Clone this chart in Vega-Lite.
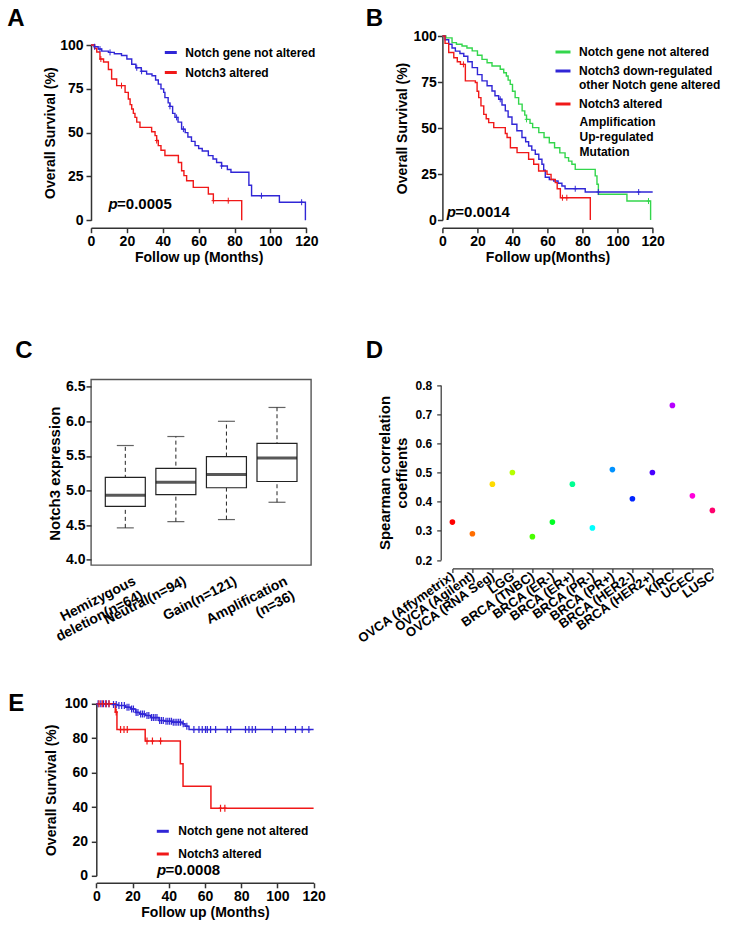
{
  "$schema": "https://vega.github.io/schema/vega-lite/v6.json",
  "background": "white",
  "padding": {"left": 7, "top": 6, "right": 4, "bottom": 4},
  "bounds": "flush",
  "columns": 2,
  "spacing": {"row": 138.4, "column": 128.4},
  "resolve": {"scale": {"x": "independent", "y": "independent", "color": "independent"}, "legend": {"color": "independent"}},
  "config": {
    "font": "Liberation Sans",
    "view": {"stroke": null},
    "axis": {"labelFont": "Liberation Sans", "labelFontWeight": "bold", "labelFontSize": 14, "labelColor": "#000", "titleFont": "Liberation Sans", "titleFontWeight": "bold", "titleFontSize": 14, "titleColor": "#000", "domainColor": "#333", "domainWidth": 1.5, "tickColor": "#333", "tickWidth": 1.5, "tickSize": 5, "grid": false, "labelOverlap": false, "labelFlush": false, "labelBound": false},
    "legend": {"labelFont": "Liberation Sans", "labelFontWeight": "bold", "labelFontSize": 12, "labelColor": "#000", "symbolType": "stroke", "symbolStrokeWidth": 3, "padding": 0, "labelLimit": 400},
    "title": {"font": "Liberation Sans", "fontSize": 24, "fontWeight": "bold", "color": "#000", "anchor": "start", "frame": "group", "baseline": "alphabetic", "offset": 0},
    "text": {"font": "Liberation Sans", "color": "#000"}
  },
  "datasets": {
    "kmA": [
      {"group": "Notch gene not altered", "t": 0, "surv": 100}, {"group": "Notch gene not altered", "t": 2, "surv": 99}, {"group": "Notch gene not altered", "t": 4, "surv": 97.7}, {"group": "Notch gene not altered", "t": 6, "surv": 96.5}, {"group": "Notch gene not altered", "t": 9.7, "surv": 95.8}, {"group": "Notch gene not altered", "t": 13, "surv": 95}, {"group": "Notch gene not altered", "t": 17, "surv": 94}, {"group": "Notch gene not altered", "t": 20, "surv": 92}, {"group": "Notch gene not altered", "t": 22.7, "surv": 89}, {"group": "Notch gene not altered", "t": 25, "surv": 87}, {"group": "Notch gene not altered", "t": 28, "surv": 85}, {"group": "Notch gene not altered", "t": 31, "surv": 83.5}, {"group": "Notch gene not altered", "t": 34, "surv": 82.5}, {"group": "Notch gene not altered", "t": 36, "surv": 80}, {"group": "Notch gene not altered", "t": 37.5, "surv": 77.7}, {"group": "Notch gene not altered", "t": 39, "surv": 75}, {"group": "Notch gene not altered", "t": 40.5, "surv": 73}, {"group": "Notch gene not altered", "t": 41.2, "surv": 70}, {"group": "Notch gene not altered", "t": 43, "surv": 67}, {"group": "Notch gene not altered", "t": 44, "surv": 65}, {"group": "Notch gene not altered", "t": 45.5, "surv": 61}, {"group": "Notch gene not altered", "t": 46.8, "surv": 58.7}, {"group": "Notch gene not altered", "t": 48.5, "surv": 56}, {"group": "Notch gene not altered", "t": 50.5, "surv": 52}, {"group": "Notch gene not altered", "t": 52.5, "surv": 50}, {"group": "Notch gene not altered", "t": 54, "surv": 47.5}, {"group": "Notch gene not altered", "t": 56, "surv": 45}, {"group": "Notch gene not altered", "t": 58, "surv": 42.6}, {"group": "Notch gene not altered", "t": 60, "surv": 41}, {"group": "Notch gene not altered", "t": 62, "surv": 39.5}, {"group": "Notch gene not altered", "t": 65.4, "surv": 36.9}, {"group": "Notch gene not altered", "t": 68, "surv": 35}, {"group": "Notch gene not altered", "t": 70, "surv": 33}, {"group": "Notch gene not altered", "t": 72.8, "surv": 31}, {"group": "Notch gene not altered", "t": 76, "surv": 29}, {"group": "Notch gene not altered", "t": 78, "surv": 27.4}, {"group": "Notch gene not altered", "t": 88, "surv": 20}, {"group": "Notch gene not altered", "t": 89.5, "surv": 14}, {"group": "Notch gene not altered", "t": 105, "surv": 10.3}, {"group": "Notch gene not altered", "t": 119.5, "surv": 0},
      {"group": "Notch3 altered", "t": 0, "surv": 100}, {"group": "Notch3 altered", "t": 2, "surv": 98}, {"group": "Notch3 altered", "t": 3.2, "surv": 96}, {"group": "Notch3 altered", "t": 5, "surv": 92}, {"group": "Notch3 altered", "t": 7, "surv": 90.3}, {"group": "Notch3 altered", "t": 9.7, "surv": 86}, {"group": "Notch3 altered", "t": 11.5, "surv": 80.6}, {"group": "Notch3 altered", "t": 14.3, "surv": 76.8}, {"group": "Notch3 altered", "t": 19, "surv": 73}, {"group": "Notch3 altered", "t": 20.8, "surv": 69.2}, {"group": "Notch3 altered", "t": 21.8, "surv": 66}, {"group": "Notch3 altered", "t": 22.7, "surv": 63.5}, {"group": "Notch3 altered", "t": 23.6, "surv": 61}, {"group": "Notch3 altered", "t": 24.5, "surv": 58.7}, {"group": "Notch3 altered", "t": 25.5, "surv": 56}, {"group": "Notch3 altered", "t": 27.3, "surv": 53}, {"group": "Notch3 altered", "t": 33.8, "surv": 50.5}, {"group": "Notch3 altered", "t": 35.7, "surv": 48.3}, {"group": "Notch3 altered", "t": 36.6, "surv": 45.5}, {"group": "Notch3 altered", "t": 37.5, "surv": 42.6}, {"group": "Notch3 altered", "t": 39, "surv": 40}, {"group": "Notch3 altered", "t": 41.2, "surv": 37}, {"group": "Notch3 altered", "t": 48.7, "surv": 33}, {"group": "Notch3 altered", "t": 50.5, "surv": 28.3}, {"group": "Notch3 altered", "t": 51.8, "surv": 25.5}, {"group": "Notch3 altered", "t": 53.3, "surv": 22.6}, {"group": "Notch3 altered", "t": 57, "surv": 18.8}, {"group": "Notch3 altered", "t": 65.4, "surv": 15}, {"group": "Notch3 altered", "t": 68.2, "surv": 11.2}, {"group": "Notch3 altered", "t": 84, "surv": 0}
    ],
    "censA": [
      {"group": "Notch gene not altered", "t": 2, "surv": 99}, {"group": "Notch gene not altered", "t": 5, "surv": 97.7}, {"group": "Notch gene not altered", "t": 10.6, "surv": 95.8}, {"group": "Notch gene not altered", "t": 25.5, "surv": 87}, {"group": "Notch gene not altered", "t": 28.2, "surv": 85}, {"group": "Notch gene not altered", "t": 44, "surv": 65}, {"group": "Notch gene not altered", "t": 47.7, "surv": 58.7}, {"group": "Notch gene not altered", "t": 51.5, "surv": 52}, {"group": "Notch gene not altered", "t": 72.8, "surv": 31}, {"group": "Notch gene not altered", "t": 95, "surv": 14}, {"group": "Notch gene not altered", "t": 117.4, "surv": 10.3},
      {"group": "Notch3 altered", "t": 5.5, "surv": 92}, {"group": "Notch3 altered", "t": 17, "surv": 76.8}, {"group": "Notch3 altered", "t": 36.6, "surv": 45.5}, {"group": "Notch3 altered", "t": 68.2, "surv": 11.2}, {"group": "Notch3 altered", "t": 76.5, "surv": 11.2}
    ],
    "kmB": [
      {"group": "Notch gene not altered", "t": 0, "surv": 100}, {"group": "Notch gene not altered", "t": 2, "surv": 99}, {"group": "Notch gene not altered", "t": 5.5, "surv": 96.4}, {"group": "Notch gene not altered", "t": 8, "surv": 95.5}, {"group": "Notch gene not altered", "t": 11.2, "surv": 94.6}, {"group": "Notch gene not altered", "t": 14, "surv": 93.5}, {"group": "Notch gene not altered", "t": 17, "surv": 91.9}, {"group": "Notch gene not altered", "t": 20, "surv": 89.5}, {"group": "Notch gene not altered", "t": 22.6, "surv": 87.3}, {"group": "Notch gene not altered", "t": 25.5, "surv": 85.5}, {"group": "Notch gene not altered", "t": 28.3, "surv": 83.7}, {"group": "Notch gene not altered", "t": 33, "surv": 81.9}, {"group": "Notch gene not altered", "t": 35, "surv": 80}, {"group": "Notch gene not altered", "t": 36.5, "surv": 78.3}, {"group": "Notch gene not altered", "t": 37.5, "surv": 76}, {"group": "Notch gene not altered", "t": 38.7, "surv": 73.7}, {"group": "Notch gene not altered", "t": 40, "surv": 70}, {"group": "Notch gene not altered", "t": 41.5, "surv": 66.5}, {"group": "Notch gene not altered", "t": 43.5, "surv": 63}, {"group": "Notch gene not altered", "t": 45.5, "surv": 59.3}, {"group": "Notch gene not altered", "t": 47, "surv": 57}, {"group": "Notch gene not altered", "t": 48, "surv": 54.7}, {"group": "Notch gene not altered", "t": 50, "surv": 52.5}, {"group": "Notch gene not altered", "t": 51.5, "surv": 50.2}, {"group": "Notch gene not altered", "t": 55, "surv": 47.5}, {"group": "Notch gene not altered", "t": 58, "surv": 44.8}, {"group": "Notch gene not altered", "t": 61, "surv": 42}, {"group": "Notch gene not altered", "t": 64, "surv": 39.3}, {"group": "Notch gene not altered", "t": 67, "surv": 36.5}, {"group": "Notch gene not altered", "t": 70, "surv": 33.9}, {"group": "Notch gene not altered", "t": 72, "surv": 32}, {"group": "Notch gene not altered", "t": 73.9, "surv": 30.3}, {"group": "Notch gene not altered", "t": 75.8, "surv": 27.5}, {"group": "Notch gene not altered", "t": 87.2, "surv": 24}, {"group": "Notch gene not altered", "t": 88.2, "surv": 19.4}, {"group": "Notch gene not altered", "t": 89, "surv": 14}, {"group": "Notch gene not altered", "t": 105.3, "surv": 10.3}, {"group": "Notch gene not altered", "t": 118.8, "surv": 0},
      {"group": "Notch3 down-regulated, other Notch gene altered", "t": 0, "surv": 100}, {"group": "Notch3 down-regulated, other Notch gene altered", "t": 1.5, "surv": 98}, {"group": "Notch3 down-regulated, other Notch gene altered", "t": 3.6, "surv": 95.5}, {"group": "Notch3 down-regulated, other Notch gene altered", "t": 5.5, "surv": 93.5}, {"group": "Notch3 down-regulated, other Notch gene altered", "t": 7.4, "surv": 91.8}, {"group": "Notch3 down-regulated, other Notch gene altered", "t": 10, "surv": 90.5}, {"group": "Notch3 down-regulated, other Notch gene altered", "t": 12.2, "surv": 89}, {"group": "Notch3 down-regulated, other Notch gene altered", "t": 14.5, "surv": 86}, {"group": "Notch3 down-regulated, other Notch gene altered", "t": 17, "surv": 82.8}, {"group": "Notch3 down-regulated, other Notch gene altered", "t": 20, "surv": 79}, {"group": "Notch3 down-regulated, other Notch gene altered", "t": 22.6, "surv": 75.6}, {"group": "Notch3 down-regulated, other Notch gene altered", "t": 25.5, "surv": 73}, {"group": "Notch3 down-regulated, other Notch gene altered", "t": 28.3, "surv": 70.1}, {"group": "Notch3 down-regulated, other Notch gene altered", "t": 30, "surv": 67.5}, {"group": "Notch3 down-regulated, other Notch gene altered", "t": 32.1, "surv": 65.6}, {"group": "Notch3 down-regulated, other Notch gene altered", "t": 34, "surv": 62.5}, {"group": "Notch3 down-regulated, other Notch gene altered", "t": 35.9, "surv": 59.3}, {"group": "Notch3 down-regulated, other Notch gene altered", "t": 37.5, "surv": 56}, {"group": "Notch3 down-regulated, other Notch gene altered", "t": 39.7, "surv": 52}, {"group": "Notch3 down-regulated, other Notch gene altered", "t": 42.5, "surv": 48.5}, {"group": "Notch3 down-regulated, other Notch gene altered", "t": 45.4, "surv": 44.8}, {"group": "Notch3 down-regulated, other Notch gene altered", "t": 47.5, "surv": 42.5}, {"group": "Notch3 down-regulated, other Notch gene altered", "t": 49.2, "surv": 40.2}, {"group": "Notch3 down-regulated, other Notch gene altered", "t": 51, "surv": 38}, {"group": "Notch3 down-regulated, other Notch gene altered", "t": 53, "surv": 35.7}, {"group": "Notch3 down-regulated, other Notch gene altered", "t": 55, "surv": 33}, {"group": "Notch3 down-regulated, other Notch gene altered", "t": 56.8, "surv": 30.3}, {"group": "Notch3 down-regulated, other Notch gene altered", "t": 57.8, "surv": 27}, {"group": "Notch3 down-regulated, other Notch gene altered", "t": 58.7, "surv": 23.2}, {"group": "Notch3 down-regulated, other Notch gene altered", "t": 61, "surv": 22}, {"group": "Notch3 down-regulated, other Notch gene altered", "t": 63.5, "surv": 21.2}, {"group": "Notch3 down-regulated, other Notch gene altered", "t": 66, "surv": 20}, {"group": "Notch3 down-regulated, other Notch gene altered", "t": 68.2, "surv": 18.5}, {"group": "Notch3 down-regulated, other Notch gene altered", "t": 70, "surv": 17}, {"group": "Notch3 down-regulated, other Notch gene altered", "t": 81.5, "surv": 15.2}, {"group": "Notch3 down-regulated, other Notch gene altered", "t": 120, "surv": 15.2},
      {"group": "Notch3 altered", "t": 0, "surv": 100}, {"group": "Notch3 altered", "t": 1.5, "surv": 96}, {"group": "Notch3 altered", "t": 3.6, "surv": 91}, {"group": "Notch3 altered", "t": 6.5, "surv": 88.2}, {"group": "Notch3 altered", "t": 8.5, "surv": 86}, {"group": "Notch3 altered", "t": 10.3, "surv": 84.6}, {"group": "Notch3 altered", "t": 13.1, "surv": 75.6}, {"group": "Notch3 altered", "t": 18.8, "surv": 74.7}, {"group": "Notch3 altered", "t": 19.8, "surv": 70}, {"group": "Notch3 altered", "t": 20.7, "surv": 66.5}, {"group": "Notch3 altered", "t": 22, "surv": 62}, {"group": "Notch3 altered", "t": 23.6, "surv": 57.4}, {"group": "Notch3 altered", "t": 25, "surv": 55}, {"group": "Notch3 altered", "t": 26.4, "surv": 52.9}, {"group": "Notch3 altered", "t": 29.3, "surv": 50.2}, {"group": "Notch3 altered", "t": 35.9, "surv": 47}, {"group": "Notch3 altered", "t": 36.9, "surv": 44.8}, {"group": "Notch3 altered", "t": 38.8, "surv": 39.3}, {"group": "Notch3 altered", "t": 42.6, "surv": 36.6}, {"group": "Notch3 altered", "t": 49.2, "surv": 33}, {"group": "Notch3 altered", "t": 52.1, "surv": 30.3}, {"group": "Notch3 altered", "t": 54.9, "surv": 26.6}, {"group": "Notch3 altered", "t": 59.7, "surv": 24.8}, {"group": "Notch3 altered", "t": 62, "surv": 22}, {"group": "Notch3 altered", "t": 64.4, "surv": 20.3}, {"group": "Notch3 altered", "t": 65.5, "surv": 17}, {"group": "Notch3 altered", "t": 67.3, "surv": 12.1}, {"group": "Notch3 altered", "t": 84.4, "surv": 0}
    ],
    "censB": [
      {"group": "Notch gene not altered", "t": 48, "surv": 54.7}, {"group": "Notch gene not altered", "t": 117.6, "surv": 10.3},
      {"group": "Notch3 down-regulated, other Notch gene altered", "t": 33, "surv": 65.6}, {"group": "Notch3 down-regulated, other Notch gene altered", "t": 75.8, "surv": 17}, {"group": "Notch3 down-regulated, other Notch gene altered", "t": 89, "surv": 15.2}, {"group": "Notch3 down-regulated, other Notch gene altered", "t": 112, "surv": 15.2},
      {"group": "Notch3 altered", "t": 12, "surv": 84.6}, {"group": "Notch3 altered", "t": 68.5, "surv": 12.1}, {"group": "Notch3 altered", "t": 71, "surv": 12.1}
    ],
    "boxC": [
      {"cat": "Hemizygous deletion(n=64)", "lo": 4.46, "q1": 4.77, "med": 4.93, "q3": 5.19, "hi": 5.65},
      {"cat": "Neutral(n=94)", "lo": 4.55, "q1": 4.94, "med": 5.12, "q3": 5.32, "hi": 5.78},
      {"cat": "Gain(n=121)", "lo": 4.58, "q1": 5.04, "med": 5.23, "q3": 5.49, "hi": 6.0},
      {"cat": "Amplification (n=36)", "lo": 4.83, "q1": 5.13, "med": 5.47, "q3": 5.68, "hi": 6.2}
    ],
    "dotD": [
      {"dataset": "OVCA (Affymetrix)", "rho": 0.33}, {"dataset": "OVCA (Agilent)", "rho": 0.29}, {"dataset": "OVCA (RNA Seg)", "rho": 0.46}, {"dataset": "LGG", "rho": 0.5}, {"dataset": "BRCA (TNBC)", "rho": 0.28}, {"dataset": "BRCA (ER-)", "rho": 0.33}, {"dataset": "BRCA (ER+)", "rho": 0.46}, {"dataset": "BRCA (PR-)", "rho": 0.31}, {"dataset": "BRCA (PR+)", "rho": 0.51}, {"dataset": "BRCA (HER2-)", "rho": 0.41}, {"dataset": "BRCA (HER2+)", "rho": 0.5}, {"dataset": "KIRC", "rho": 0.73}, {"dataset": "UCEC", "rho": 0.42}, {"dataset": "LUSC", "rho": 0.37}
    ],
    "kmE": [
      {"group": "Notch gene not altered", "t": 0, "surv": 100}, {"group": "Notch gene not altered", "t": 8.8, "surv": 99.6}, {"group": "Notch gene not altered", "t": 12, "surv": 99}, {"group": "Notch gene not altered", "t": 16.2, "surv": 98}, {"group": "Notch gene not altered", "t": 19, "surv": 97}, {"group": "Notch gene not altered", "t": 21.7, "surv": 95}, {"group": "Notch gene not altered", "t": 24, "surv": 94}, {"group": "Notch gene not altered", "t": 27.2, "surv": 93.2}, {"group": "Notch gene not altered", "t": 30, "surv": 92}, {"group": "Notch gene not altered", "t": 34.6, "surv": 90.3}, {"group": "Notch gene not altered", "t": 38, "surv": 89.8}, {"group": "Notch gene not altered", "t": 42, "surv": 89.3}, {"group": "Notch gene not altered", "t": 47.5, "surv": 88.4}, {"group": "Notch gene not altered", "t": 49, "surv": 87}, {"group": "Notch gene not altered", "t": 51.2, "surv": 85}, {"group": "Notch gene not altered", "t": 120, "surv": 85},
      {"group": "Notch3 altered", "t": 0, "surv": 100}, {"group": "Notch3 altered", "t": 10.5, "surv": 95.2}, {"group": "Notch3 altered", "t": 11.4, "surv": 85}, {"group": "Notch3 altered", "t": 27, "surv": 78.3}, {"group": "Notch3 altered", "t": 46.4, "surv": 65.1}, {"group": "Notch3 altered", "t": 47.9, "surv": 52.1}, {"group": "Notch3 altered", "t": 63.3, "surv": 39.3}, {"group": "Notch3 altered", "t": 120, "surv": 39.3}
    ],
    "censE": [
      {"group": "Notch gene not altered", "t": 1, "surv": 100}, {"group": "Notch gene not altered", "t": 2.5, "surv": 100}, {"group": "Notch gene not altered", "t": 4, "surv": 100}, {"group": "Notch gene not altered", "t": 5.5, "surv": 100}, {"group": "Notch gene not altered", "t": 7, "surv": 100}, {"group": "Notch gene not altered", "t": 9.5, "surv": 99.6}, {"group": "Notch gene not altered", "t": 11, "surv": 99.6}, {"group": "Notch gene not altered", "t": 12.5, "surv": 99}, {"group": "Notch gene not altered", "t": 14, "surv": 99}, {"group": "Notch gene not altered", "t": 15.5, "surv": 99}, {"group": "Notch gene not altered", "t": 17, "surv": 98}, {"group": "Notch gene not altered", "t": 18, "surv": 98}, {"group": "Notch gene not altered", "t": 19.5, "surv": 97}, {"group": "Notch gene not altered", "t": 20.5, "surv": 97}, {"group": "Notch gene not altered", "t": 22, "surv": 95}, {"group": "Notch gene not altered", "t": 23, "surv": 95}, {"group": "Notch gene not altered", "t": 24.5, "surv": 94}, {"group": "Notch gene not altered", "t": 25.5, "surv": 94}, {"group": "Notch gene not altered", "t": 26.5, "surv": 94}, {"group": "Notch gene not altered", "t": 28, "surv": 93.2}, {"group": "Notch gene not altered", "t": 29, "surv": 93.2}, {"group": "Notch gene not altered", "t": 30.5, "surv": 92}, {"group": "Notch gene not altered", "t": 31.5, "surv": 92}, {"group": "Notch gene not altered", "t": 32.5, "surv": 92}, {"group": "Notch gene not altered", "t": 33.5, "surv": 92}, {"group": "Notch gene not altered", "t": 35, "surv": 90.3}, {"group": "Notch gene not altered", "t": 36, "surv": 90.3}, {"group": "Notch gene not altered", "t": 37, "surv": 90.3}, {"group": "Notch gene not altered", "t": 38.5, "surv": 89.8}, {"group": "Notch gene not altered", "t": 39.5, "surv": 89.8}, {"group": "Notch gene not altered", "t": 40.5, "surv": 89.8}, {"group": "Notch gene not altered", "t": 41.5, "surv": 89.8}, {"group": "Notch gene not altered", "t": 42.5, "surv": 89.3}, {"group": "Notch gene not altered", "t": 43.5, "surv": 89.3}, {"group": "Notch gene not altered", "t": 44.5, "surv": 89.3}, {"group": "Notch gene not altered", "t": 45.5, "surv": 89.3}, {"group": "Notch gene not altered", "t": 46.5, "surv": 89.3}, {"group": "Notch gene not altered", "t": 48, "surv": 88.4}, {"group": "Notch gene not altered", "t": 50, "surv": 87}, {"group": "Notch gene not altered", "t": 53.9, "surv": 85}, {"group": "Notch gene not altered", "t": 56.7, "surv": 85}, {"group": "Notch gene not altered", "t": 58.5, "surv": 85}, {"group": "Notch gene not altered", "t": 60.3, "surv": 85}, {"group": "Notch gene not altered", "t": 61.3, "surv": 85}, {"group": "Notch gene not altered", "t": 63.1, "surv": 85}, {"group": "Notch gene not altered", "t": 65.9, "surv": 85}, {"group": "Notch gene not altered", "t": 72.3, "surv": 85}, {"group": "Notch gene not altered", "t": 74.2, "surv": 85}, {"group": "Notch gene not altered", "t": 82.4, "surv": 85}, {"group": "Notch gene not altered", "t": 84.3, "surv": 85}, {"group": "Notch gene not altered", "t": 86.1, "surv": 85}, {"group": "Notch gene not altered", "t": 87.9, "surv": 85}, {"group": "Notch gene not altered", "t": 97.2, "surv": 85}, {"group": "Notch gene not altered", "t": 104.5, "surv": 85}, {"group": "Notch gene not altered", "t": 110, "surv": 85}, {"group": "Notch gene not altered", "t": 113.7, "surv": 85}, {"group": "Notch gene not altered", "t": 117.4, "surv": 85},
      {"group": "Notch3 altered", "t": 1.5, "surv": 100}, {"group": "Notch3 altered", "t": 3.3, "surv": 100}, {"group": "Notch3 altered", "t": 5.2, "surv": 100}, {"group": "Notch3 altered", "t": 7, "surv": 100}, {"group": "Notch3 altered", "t": 11, "surv": 95.2}, {"group": "Notch3 altered", "t": 13.4, "surv": 85}, {"group": "Notch3 altered", "t": 15.3, "surv": 85}, {"group": "Notch3 altered", "t": 17.1, "surv": 85}, {"group": "Notch3 altered", "t": 28, "surv": 78.3}, {"group": "Notch3 altered", "t": 31, "surv": 78.3}, {"group": "Notch3 altered", "t": 35.5, "surv": 78.3}, {"group": "Notch3 altered", "t": 68.6, "surv": 39.3}, {"group": "Notch3 altered", "t": 71, "surv": 39.3}
    ]
  },
  "concat": [
    {
      "width": 215.3, "height": 204.3,
      "title": {"text": "A", "dx": -83.7, "dy": -1.1},
      "layer": [
        {
          "data": {"name": "kmA"},
          "mark": {"type": "line", "interpolate": "step-after", "strokeWidth": 1.4},
          "encoding": {
            "x": {"field": "t", "type": "quantitative", "scale": {"domain": [0, 120], "range": [0, 215.3], "nice": false, "zero": false}, "axis": {"values": [0, 20, 40, 60, 80, 100, 120], "labelOverlap": false, "title": "Follow up (Months)", "offset": -12.6, "labelPadding": 2, "titlePadding": 2}},
            "y": {"field": "surv", "type": "quantitative", "scale": {"domain": [0, 100], "range": [184.3, 9], "nice": false}, "axis": {"values": [0, 25, 50, 75, 100], "labelOverlap": false, "title": "Overall Survival (%)", "labelPadding": 3, "titlePadding": 2}},
            "color": {"field": "group", "type": "nominal", "scale": {"domain": ["Notch gene not altered", "Notch3 altered"], "range": ["#3026D6", "#F01818"]}, "legend": {"title": null, "orient": "none", "legendX": 72.3, "legendY": 9, "symbolSize": 144, "rowPadding": 6, "labelOffset": 7}}
          }
        },
        {
          "data": {"name": "censA"},
          "mark": {"type": "point", "shape": "M0,-1L0,1M-0.6,0L0.6,0", "size": 36, "strokeWidth": 1, "filled": false, "opacity": 1},
          "encoding": {
            "x": {"field": "t", "type": "quantitative", "axis": {"values": [0, 20, 40, 60, 80, 100, 120], "labelOverlap": false, "title": "Follow up (Months)", "offset": -12.6, "labelPadding": 2, "titlePadding": 2}},
            "y": {"field": "surv", "type": "quantitative", "axis": {"values": [0, 25, 50, 75, 100], "labelOverlap": false, "title": "Overall Survival (%)", "labelPadding": 3, "titlePadding": 2}},
            "color": {"field": "group", "type": "nominal", "legend": null}
          }
        },
        {
          "data": {"values": [{}]},
          "mark": {"type": "text", "text": "p", "fontStyle": "italic", "fontWeight": "bold", "fontSize": 15, "align": "left", "baseline": "alphabetic"},
          "encoding": {
            "x": {"datum": 9.8, "type": "quantitative", "axis": {"values": [0, 20, 40, 60, 80, 100, 120], "labelOverlap": false, "title": "Follow up (Months)", "offset": -12.6, "labelPadding": 2, "titlePadding": 2}},
            "y": {"datum": 6.3, "type": "quantitative", "axis": {"values": [0, 25, 50, 75, 100], "labelOverlap": false, "title": "Overall Survival (%)", "labelPadding": 3, "titlePadding": 2}}
          }
        },
        {
          "data": {"values": [{}]},
          "mark": {"type": "text", "text": "=0.0005", "fontWeight": "bold", "fontSize": 15, "align": "left", "baseline": "alphabetic", "dx": 8.5},
          "encoding": {
            "x": {"datum": 9.8, "type": "quantitative", "axis": {"values": [0, 20, 40, 60, 80, 100, 120], "labelOverlap": false, "title": "Follow up (Months)", "offset": -12.6, "labelPadding": 2, "titlePadding": 2}},
            "y": {"datum": 6.3, "type": "quantitative", "axis": {"values": [0, 25, 50, 75, 100], "labelOverlap": false, "title": "Overall Survival (%)", "labelPadding": 3, "titlePadding": 2}}
          }
        }
      ]
    },
    {
      "width": 210.3, "height": 204.3,
      "title": {"text": "B", "dx": -76.7, "dy": 6.4},
      "layer": [
        {
          "data": {"name": "kmB"},
          "mark": {"type": "line", "interpolate": "step-after", "strokeWidth": 1.4},
          "encoding": {
            "x": {"field": "t", "type": "quantitative", "scale": {"domain": [0, 120], "range": [0, 210.3], "nice": false, "zero": false}, "axis": {"values": [0, 20, 40, 60, 80, 100, 120], "labelOverlap": false, "title": "Follow up(Months)", "offset": -12.6, "labelPadding": 2, "titlePadding": 2}},
            "y": {"field": "surv", "type": "quantitative", "scale": {"domain": [0, 100], "range": [184, 0], "nice": false}, "axis": {"values": [0, 25, 50, 75, 100], "labelOverlap": false, "title": "Overall Survival (%)", "labelPadding": 1, "titlePadding": 3.7}},
            "color": {"field": "group", "type": "nominal", "scale": {"domain": ["Notch gene not altered", "Notch3 down-regulated, other Notch gene altered", "Notch3 altered"], "range": ["#33D64C", "#3026D6", "#F01818"]}, "legend": {"title": null, "orient": "none", "legendX": 111.6, "legendY": 7, "symbolSize": 225, "rowPadding": 4, "labelOffset": 7, "labelExpr": "datum.label == 'Notch3 down-regulated, other Notch gene altered' ? ['Notch3 down-regulated', 'other Notch gene altered'] : datum.label"}}
          }
        },
        {
          "data": {"name": "censB"},
          "mark": {"type": "point", "shape": "M0,-1L0,1M-0.6,0L0.6,0", "size": 36, "strokeWidth": 1, "filled": false, "opacity": 1},
          "encoding": {
            "x": {"field": "t", "type": "quantitative", "axis": {"values": [0, 20, 40, 60, 80, 100, 120], "labelOverlap": false, "title": "Follow up(Months)", "offset": -12.6, "labelPadding": 2, "titlePadding": 2}},
            "y": {"field": "surv", "type": "quantitative", "axis": {"values": [0, 25, 50, 75, 100], "labelOverlap": false, "title": "Overall Survival (%)", "labelPadding": 1, "titlePadding": 3.7}},
            "color": {"field": "group", "type": "nominal", "legend": null}
          }
        },
        {
          "data": {"values": [{}]},
          "mark": {"type": "text", "text": ["Amplification", "Up-regulated", "Mutation"], "fontWeight": "bold", "fontSize": 12, "align": "left", "baseline": "alphabetic", "lineHeight": 15},
          "encoding": {
            "x": {"datum": 78.3, "type": "quantitative", "axis": {"values": [0, 20, 40, 60, 80, 100, 120], "labelOverlap": false, "title": "Follow up(Months)", "offset": -12.6, "labelPadding": 2, "titlePadding": 2}},
            "y": {"datum": 51, "type": "quantitative", "axis": {"values": [0, 25, 50, 75, 100], "labelOverlap": false, "title": "Overall Survival (%)", "labelPadding": 1, "titlePadding": 3.7}}
          }
        },
        {
          "data": {"values": [{}]},
          "mark": {"type": "text", "text": "p", "fontStyle": "italic", "fontWeight": "bold", "fontSize": 15, "align": "left", "baseline": "alphabetic"},
          "encoding": {
            "x": {"datum": 2.5, "type": "quantitative", "axis": {"values": [0, 20, 40, 60, 80, 100, 120], "labelOverlap": false, "title": "Follow up(Months)", "offset": -12.6, "labelPadding": 2, "titlePadding": 2}},
            "y": {"datum": 1.6, "type": "quantitative", "axis": {"values": [0, 25, 50, 75, 100], "labelOverlap": false, "title": "Overall Survival (%)", "labelPadding": 1, "titlePadding": 3.7}}
          }
        },
        {
          "data": {"values": [{}]},
          "mark": {"type": "text", "text": "=0.0014", "fontWeight": "bold", "fontSize": 15, "align": "left", "baseline": "alphabetic", "dx": 8.5},
          "encoding": {
            "x": {"datum": 2.5, "type": "quantitative", "axis": {"values": [0, 20, 40, 60, 80, 100, 120], "labelOverlap": false, "title": "Follow up(Months)", "offset": -12.6, "labelPadding": 2, "titlePadding": 2}},
            "y": {"datum": 1.6, "type": "quantitative", "axis": {"values": [0, 25, 50, 75, 100], "labelOverlap": false, "title": "Overall Survival (%)", "labelPadding": 1, "titlePadding": 3.7}}
          }
        }
      ]
    },
    {
      "width": 220, "height": 185.6,
      "title": {"text": "C", "dx": -75.7, "dy": -12.5},
      "view": {"stroke": "#555", "strokeWidth": 1.4},
      "data": {"name": "boxC"},
      "encoding": {
        "x": {"field": "cat", "type": "nominal", "sort": null, "scale": {"type": "point", "domain": ["Hemizygous deletion(n=64)", "Neutral(n=94)", "Gain(n=121)", "Amplification (n=36)"], "range": [34.3, 186], "padding": 0}, "axis": {"title": null, "domain": false, "ticks": false, "tickSize": 0, "labelAngle": -27, "labelAlign": "right", "labelBaseline": "middle", "labelFontSize": 14, "labelOffset": 9, "labelPadding": 15, "labelLineHeight": 16, "labelOverlap": false, "labelExpr": "datum.label == 'Hemizygous deletion(n=64)' ? ['Hemizygous    ', 'deletion(n=64)'] : datum.label == 'Amplification (n=36)' ? ['Amplification', '(n=36)     '] : datum.label"}}
      },
      "layer": [
        {
          "mark": {"type": "rule", "color": "#222", "strokeWidth": 1, "strokeDash": [4, 3]},
          "encoding": {
            "y": {"field": "lo", "type": "quantitative", "scale": {"domain": [4.0, 6.5], "range": [180.3, 7.3], "nice": false, "zero": false}, "axis": {"values": [4.0, 4.5, 5.0, 5.5, 6.0, 6.5], "labelOverlap": false, "format": ".1f", "title": "Notch3 expression", "titleFontSize": 15, "domain": false, "labelPadding": 1, "titlePadding": 3}},
            "y2": {"field": "hi"}
          }
        },
        {
          "mark": {"type": "bar", "fill": "white", "stroke": "#222", "strokeWidth": 1.2, "size": 40},
          "encoding": {"y": {"field": "q1", "type": "quantitative", "axis": {"values": [4.0, 4.5, 5.0, 5.5, 6.0, 6.5], "labelOverlap": false, "format": ".1f", "title": "Notch3 expression", "titleFontSize": 15, "domain": false, "labelPadding": 1, "titlePadding": 3}}, "y2": {"field": "q3"}}
        },
        {
          "mark": {"type": "tick", "color": "#111", "size": 40, "thickness": 3},
          "encoding": {"y": {"field": "med", "type": "quantitative", "axis": {"values": [4.0, 4.5, 5.0, 5.5, 6.0, 6.5], "labelOverlap": false, "format": ".1f", "title": "Notch3 expression", "titleFontSize": 15, "domain": false, "labelPadding": 1, "titlePadding": 3}}}
        },
        {
          "mark": {"type": "tick", "color": "#222", "size": 17, "thickness": 1.2},
          "encoding": {"y": {"field": "lo", "type": "quantitative", "axis": {"values": [4.0, 4.5, 5.0, 5.5, 6.0, 6.5], "labelOverlap": false, "format": ".1f", "title": "Notch3 expression", "titleFontSize": 15, "domain": false, "labelPadding": 1, "titlePadding": 3}}}
        },
        {
          "mark": {"type": "tick", "color": "#222", "size": 17, "thickness": 1.2},
          "encoding": {"y": {"field": "hi", "type": "quantitative", "axis": {"values": [4.0, 4.5, 5.0, 5.5, 6.0, 6.5], "labelOverlap": false, "format": ".1f", "title": "Notch3 expression", "titleFontSize": 15, "domain": false, "labelPadding": 1, "titlePadding": 3}}}
        }
      ]
    },
    {
      "width": 272, "height": 185.6,
      "title": {"text": "D", "dx": -76.7, "dy": -12.5},
      "data": {"name": "dotD"},
      "mark": {"type": "point", "filled": true, "size": 32, "opacity": 1},
      "encoding": {
        "x": {"field": "dataset", "type": "nominal", "sort": null, "scale": {"type": "point", "domain": ["OVCA (Affymetrix)", "OVCA (Agilent)", "OVCA (RNA Seg)", "LGG", "BRCA (TNBC)", "BRCA (ER-)", "BRCA (ER+)", "BRCA (PR-)", "BRCA (PR+)", "BRCA (HER2-)", "BRCA (HER2+)", "KIRC", "UCEC", "LUSC"], "range": [10, 270], "padding": 0}, "axis": {"title": null, "labelAngle": -35, "labelAlign": "right", "labelBaseline": "middle", "labelFontSize": 13, "labelOverlap": false, "offset": 3.4, "tickSize": 4, "labelPadding": 2, "domainWidth": 1.2, "tickWidth": 1.2}},
        "y": {"field": "rho", "type": "quantitative", "scale": {"domain": [0.2, 0.8], "range": [180.6, 5.6], "nice": false, "zero": false}, "axis": {"values": [0.2, 0.3, 0.4, 0.5, 0.6, 0.7, 0.8], "labelOverlap": false, "format": ".1f", "title": ["Spearman correlation", "coeffients"], "titleFontSize": 15, "titleLineHeight": 17, "labelFontSize": 12, "offset": 1.7, "tickSize": 4, "labelPadding": 5, "titlePadding": 5.5, "domainWidth": 1.2, "tickWidth": 1.2}},
        "color": {"field": "dataset", "type": "nominal", "scale": {"domain": ["OVCA (Affymetrix)", "OVCA (Agilent)", "OVCA (RNA Seg)", "LGG", "BRCA (TNBC)", "BRCA (ER-)", "BRCA (ER+)", "BRCA (PR-)", "BRCA (PR+)", "BRCA (HER2-)", "BRCA (HER2+)", "KIRC", "UCEC", "LUSC"], "range": ["#FF0000", "#FF6D00", "#FFDB00", "#B6FF00", "#49FF00", "#00FF24", "#00FF92", "#00FFFF", "#0092FF", "#0024FF", "#4900FF", "#B600FF", "#FF00DB", "#FF006D"]}, "legend": null}
      }
    },
    {
      "width": 222.6, "height": 179,
      "title": {"text": "E", "dx": -82.7, "dy": 23.6},
      "layer": [
        {
          "data": {"name": "kmE"},
          "mark": {"type": "line", "interpolate": "step-after", "strokeWidth": 1.5},
          "encoding": {
            "x": {"field": "t", "type": "quantitative", "scale": {"domain": [0, 120], "range": [5.3, 222.6], "nice": false, "zero": false}, "axis": {"values": [0, 20, 40, 60, 80, 100, 120], "labelOverlap": false, "title": "Follow up (Months)", "labelPadding": 2, "titlePadding": 2}},
            "y": {"field": "surv", "type": "quantitative", "scale": {"domain": [0, 100], "range": [172, 0], "nice": false}, "axis": {"values": [0, 20, 40, 60, 80, 100], "labelOverlap": false, "title": "Overall Survival (%)", "offset": -5.3, "labelPadding": 3.7, "titlePadding": 6}},
            "color": {"field": "group", "type": "nominal", "scale": {"domain": ["Notch gene not altered", "Notch3 altered"], "range": ["#3026D6", "#F01818"]}, "legend": {"title": null, "orient": "none", "legendX": 64.3, "legendY": 120, "symbolSize": 144, "rowPadding": 8.7, "labelOffset": 8}}
          }
        },
        {
          "data": {"name": "censE"},
          "mark": {"type": "point", "shape": "M0,-1L0,1M-0.5,0L0.5,0", "size": 49, "strokeWidth": 1.2, "filled": false, "opacity": 1},
          "encoding": {
            "x": {"field": "t", "type": "quantitative", "axis": {"values": [0, 20, 40, 60, 80, 100, 120], "labelOverlap": false, "title": "Follow up (Months)", "labelPadding": 2, "titlePadding": 2}},
            "y": {"field": "surv", "type": "quantitative", "axis": {"values": [0, 20, 40, 60, 80, 100], "labelOverlap": false, "title": "Overall Survival (%)", "offset": -5.3, "labelPadding": 3.7, "titlePadding": 6}},
            "color": {"field": "group", "type": "nominal", "legend": null}
          }
        },
        {
          "data": {"values": [{}]},
          "mark": {"type": "text", "text": "p", "fontStyle": "italic", "fontWeight": "bold", "fontSize": 15, "align": "left", "baseline": "alphabetic"},
          "encoding": {
            "x": {"datum": 33.5, "type": "quantitative", "axis": {"values": [0, 20, 40, 60, 80, 100, 120], "labelOverlap": false, "title": "Follow up (Months)", "labelPadding": 2, "titlePadding": 2}},
            "y": {"datum": 0.2, "type": "quantitative", "axis": {"values": [0, 20, 40, 60, 80, 100], "labelOverlap": false, "title": "Overall Survival (%)", "offset": -5.3, "labelPadding": 3.7, "titlePadding": 6}}
          }
        },
        {
          "data": {"values": [{}]},
          "mark": {"type": "text", "text": "=0.0008", "fontWeight": "bold", "fontSize": 15, "align": "left", "baseline": "alphabetic", "dx": 8.5},
          "encoding": {
            "x": {"datum": 33.5, "type": "quantitative", "axis": {"values": [0, 20, 40, 60, 80, 100, 120], "labelOverlap": false, "title": "Follow up (Months)", "labelPadding": 2, "titlePadding": 2}},
            "y": {"datum": 0.2, "type": "quantitative", "axis": {"values": [0, 20, 40, 60, 80, 100], "labelOverlap": false, "title": "Overall Survival (%)", "offset": -5.3, "labelPadding": 3.7, "titlePadding": 6}}
          }
        }
      ]
    }
  ]
}
